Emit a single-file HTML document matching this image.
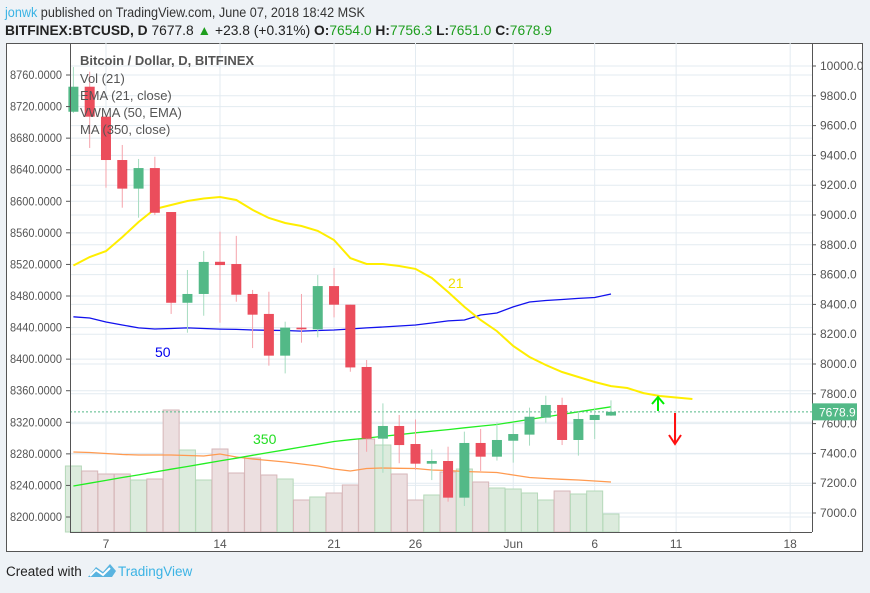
<!DOCTYPE html>
<html><head><meta charset="utf-8"><style>
body{margin:0;background:#eef2f6;width:870px;height:588px;overflow:hidden;font-family:"Liberation Sans",sans-serif}
svg text{font-family:"Liberation Sans",sans-serif}
</style></head><body>
<svg id="c" width="870" height="588" viewBox="0 0 870 588" xmlns="http://www.w3.org/2000/svg">
<rect x="0" y="0" width="870" height="588" fill="#eef2f6"/>
<text x="5" y="17" font-size="14" fill="#333" textLength="360" lengthAdjust="spacingAndGlyphs"><tspan fill="#3bb3e4">jonwk</tspan> published on TradingView.com, June 07, 2018 18:42 MSK</text>
<text x="5" y="35" font-size="13.5" fill="#222" textLength="547" lengthAdjust="spacingAndGlyphs"><tspan font-weight="bold">BITFINEX:BTCUSD, D</tspan> 7677.8 <tspan fill="#1e9e1e">▲</tspan> +23.8 (+0.31%) <tspan font-weight="bold">O:</tspan><tspan fill="#1e9e1e">7654.0</tspan> <tspan font-weight="bold">H:</tspan><tspan fill="#1e9e1e">7756.3</tspan> <tspan font-weight="bold">L:</tspan><tspan fill="#1e9e1e">7651.0</tspan> <tspan font-weight="bold">C:</tspan><tspan fill="#1e9e1e">7678.9</tspan></text>
<rect x="6.5" y="43.5" width="856" height="508" fill="#fff" stroke="#555"/>
<g id="grid"></g><g id="vol"></g><g id="lines"></g><g id="candles"></g><g id="axes"></g>
<text x="80" y="65" font-size="13" font-weight="bold" fill="#555">Bitcoin / Dollar, D, BITFINEX</text>
<text x="80" y="83" font-size="13" fill="#555">Vol (21)</text>
<text x="80" y="100" font-size="13" fill="#555">EMA (21, close)</text>
<text x="80" y="117" font-size="13" fill="#555">VWMA (50, EMA)</text>
<text x="80" y="134" font-size="13" fill="#555">MA (350, close)</text>
<text x="155" y="357" font-size="14" fill="#0000ee">50</text>
<text x="448" y="288" font-size="14" fill="#f0e000">21</text>
<text x="253" y="444" font-size="14" fill="#22dd22">350</text>
<g stroke="#00ee00" stroke-width="2" fill="none"><path d="M658 411 V398 M652 404 L658 397 L664 404"/></g>
<g stroke="#ff1111" stroke-width="2" fill="none"><path d="M675 413 V443 M669 435 L675 444 L681 435"/></g>
<text x="6" y="576" font-size="13.5" fill="#222">Created with</text>
<g><path d="M88 577 L96 567 L103 572 L110 564 L116 571 L112 577 Z" fill="#5ab4e0"/><path d="M90 576 L96 570 L103 575 L110 568" stroke="#fff" stroke-width="2" fill="none"/></g>
<text x="118" y="576" font-size="13.5" fill="#3bb3e4">TradingView</text>
</svg>
<script>
const opens=[9693,9861,9660,9369,9177,9315,9020,8411,8470,8686,8671,8470,8336,8056,8244,8233,8523,8398,7980,7499,7584,7463,7331,7349,7103,7470,7378,7485,7526,7640,7725,7490,7624,7654];
const highs=[9993,9962,9670,9470,9376,9391,9020,8631,8758,8888,8860,8497,8485,8284,8470,8597,8644,8398,8027,7736,7658,7628,7427,7445,7546,7564,7608,7602,7707,7787,7774,7680,7707,7756];
const lows=[9685,9450,9183,9049,8982,9000,8336,8210,8324,8277,8418,8107,7989,7937,8143,8179,8313,7948,7411,7270,7334,7289,7221,7076,7047,7282,7352,7338,7452,7606,7456,7385,7497,7651];
const closes=[9861,9660,9369,9177,9315,9015,8411,8470,8685,8664,8465,8331,8056,8244,8233,8523,8398,7977,7499,7584,7456,7331,7349,7103,7470,7378,7490,7530,7646,7725,7490,7631,7658,7679];
const volumes=[66,61,58,58,52,53,122,82,52,83,59,74,57,53,32,35,39,47,93,87,58,32,37,60,63,50,44,43,39,32,41,38,41,18];
const volMA=[80,79.5,78.5,77.5,77,77,77,76.5,76,78,75,73,71.5,70,68,66,63,61,63.5,64,63.7,63.5,62,61.5,60.5,60,59.5,57,54.5,53.5,52.7,52,51,50];
const ema21=[8661,8718,8758,8852,8953,9040,9067,9094,9111,9121,9101,9034,8980,8946,8926,8893,8832,8711,8671,8671,8658,8638,8577,8483,8383,8295,8221,8121,8047,7993,7946,7913,7879,7852,7839,7805,7785,7775,7765];
const vwma50=[8317,8309,8282,8262,8242,8235,8238,8242,8238,8234,8232,8228,8226,8225,8221,8225,8228,8235,8242,8248,8255,8262,8275,8289,8295,8329,8342,8383,8416,8426,8433,8440,8446,8470];
const ma350=[7181,7200,7219,7238,7256,7275,7294,7312,7331,7350,7368,7387,7406,7424,7443,7461,7480,7492,7503,7515,7526,7538,7549,7560,7572,7583,7594,7611,7628,7645,7662,7679,7696,7713];
const leftTicks=[8760,8720,8680,8640,8600,8560,8520,8480,8440,8400,8360,8320,8280,8240,8200];
const rightTicks=[10000,9800,9600,9400,9200,9000,8800,8600,8400,8200,8000,7800,7600,7400,7200,7000];
const dateLabels=["7","14","21","26","Jun","6","11","18"];
const dateOffsets=[2,9,16,21,27,32,37,44];
const lastPrice=7678.9;

const NS="http://www.w3.org/2000/svg";
const L=70,R=812,T=43,B=532;
const xOf=i=>73.4+16.29*i;
const yR=p=>364+(8000-p)*0.149;
const yL=p=>75+(8760-p)*(442/560);
const yV=v=>B-v;
function mk(tag,attrs,parent){const e=document.createElementNS(NS,tag);for(const k in attrs)e.setAttribute(k,attrs[k]);document.getElementById(parent).appendChild(e);return e;}

leftTicks.forEach(t=>{const e=mk('line',{x1:L,x2:R,y1:yL(t),y2:yL(t),stroke:'#e3ebf1'},'grid');

});
rightTicks.forEach(t=>{const e=mk('line',{x1:L,x2:R,y1:yR(t),y2:yR(t),stroke:'#e3ebf1'},'grid');

});
dateOffsets.forEach(d=>{const e=mk('line',{x1:xOf(d),x2:xOf(d),y1:T,y2:B,stroke:'#e3ebf1'},'grid');

});

volumes.forEach((v,i)=>{const up=closes[i]>=opens[i];
const e=mk('rect',{x:xOf(i)-8,y:yV(v),width:16,height:v,fill:up?'#dcebdd':'#ecdfe0',stroke:up?'#b5d8b9':'#d6b6b8'},'vol');

});

function poly(arr,f,color,w,name){const pts=arr.map((v,i)=>xOf(i).toFixed(1)+','+f(v).toFixed(1)).join(' ');
const e=mk('polyline',{points:pts,fill:'none',stroke:color,'stroke-width':w},'lines');

}
poly(volMA,yV,'#ff9a50',1.3,'volume-ma-line');
poly(ma350,yR,'#22ee22',1.3,'ma350-line');
poly(vwma50,yR,'#1111ee',1.3,'vwma50-line');
poly(ema21,yR,'#ffee00',2,'ema21-line');

{const e=mk('line',{x1:L,x2:R,y1:yR(lastPrice),y2:yR(lastPrice),stroke:'#53b987','stroke-dasharray':'2,2'},'lines');

}

opens.forEach((o,i)=>{const c=closes[i],up=c>=o,x=xOf(i);
const w=mk('line',{x1:x,x2:x,y1:yR(highs[i]),y2:yR(lows[i]),stroke:up?'#a6dcc0':'#f5a3ab'},'candles');


const top=yR(Math.max(o,c)),bot=yR(Math.min(o,c));
const b=mk('rect',{x:x-5,y:top,width:10,height:Math.max(bot-top,1.5),fill:up?'#53b987':'#eb4d5c'},'candles');

});

{const a=mk('line',{x1:L+.5,x2:L+.5,y1:T,y2:B,stroke:'#555'},'axes');
const r=mk('line',{x1:R+.5,x2:R+.5,y1:T,y2:B,stroke:'#555'},'axes');
const bt=mk('line',{x1:L,x2:R,y1:B+.5,y2:B+.5,stroke:'#555'},'axes');}
leftTicks.forEach(t=>{const y=yL(t);mk('line',{x1:L-4,x2:L,y1:y,y2:y,stroke:'#555'},'axes');
const e=mk('text',{x:L-8,y:y+4,'text-anchor':'end','font-size':12,fill:'#555',textLength:52,lengthAdjust:'spacingAndGlyphs'},'axes');e.textContent=t.toFixed(4);

});
rightTicks.forEach(t=>{const y=yR(t);mk('line',{x1:R,x2:R+4,y1:y,y2:y,stroke:'#555'},'axes');
const e=mk('text',{x:R+8,y:y+4,'font-size':12,fill:'#555'},'axes');e.textContent=t.toFixed(1);

});
dateOffsets.forEach((d,k)=>{const e=mk('text',{x:xOf(d),y:548,'text-anchor':'middle','font-size':12,fill:'#555'},'axes');e.textContent=dateLabels[k];

});
{const y=yR(lastPrice);const b=mk('rect',{x:R,y:y-8.5,width:45,height:17,fill:'#53b987'},'axes');


const t=mk('text',{x:R+7,y:y+4.5,'font-size':12,fill:'#fff'},'axes');t.textContent=lastPrice.toFixed(1);

}
</script>
</body></html>
